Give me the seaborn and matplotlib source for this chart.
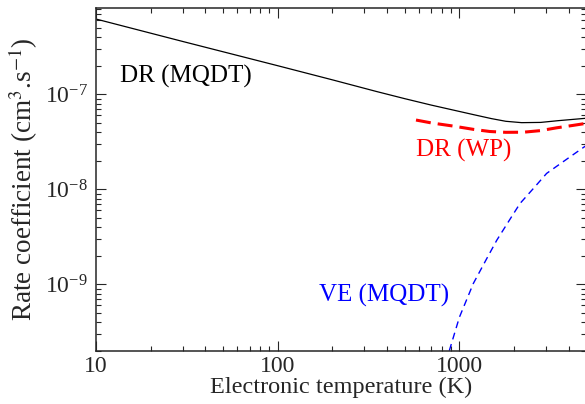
import matplotlib
matplotlib.use("Agg")
import matplotlib.pyplot as plt
import seaborn as sns

# values (T in K, rate in cm^3/s)
dr_mqdt_T = [10, 30, 100, 200, 350, 500, 700, 1000, 1200, 1500, 1800, 2200, 2800, 3500, 5000]
dr_mqdt_k = [6.2e-7, 3.6e-7, 2.0e-7, 1.42e-7, 1.07e-7, 9.0e-8, 7.7e-8, 6.6e-8, 6.1e-8,
             5.55e-8, 5.2e-8, 5.03e-8, 5.06e-8, 5.28e-8, 5.6e-8]

dr_wp_T = [577, 700, 925, 1200, 1470, 1800, 2250, 2800, 3430, 4200, 5000]
dr_wp_k = [5.36e-8, 5.0e-8, 4.63e-8, 4.27e-8, 4.06e-8, 3.98e-8, 3.99e-8, 4.15e-8,
           4.44e-8, 4.7e-8, 4.95e-8]

ve_mqdt_T = [880, 1000, 1193, 1400, 1604, 1900, 2157, 2600, 3020, 4000, 5000]
ve_mqdt_k = [2.0e-10, 4.5e-10, 1.02e-9, 1.8e-9, 2.9e-9, 4.85e-9, 7.1e-9, 1.06e-8,
             1.47e-8, 2.15e-8, 2.9e-8]

sns.set_theme(style="ticks")
plt.rcParams["font.family"] = ["Liberation Serif", "DejaVu Serif"]
plt.rcParams["mathtext.fontset"] = "stix"
plt.rcParams["axes.linewidth"] = 1.1

fig = plt.figure(figsize=(5.85, 4.04), dpi=100)
ax = fig.add_axes([96 / 585, 1 - 350.7 / 404, 490.4 / 585, 343.2 / 404])
ax.set_xscale("log")
ax.set_yscale("log")

sns.lineplot(x=dr_mqdt_T, y=dr_mqdt_k, color="black", linewidth=0.9, ax=ax)
sns.lineplot(x=dr_wp_T, y=dr_wp_k, color="red", linewidth=2.2,
             linestyle=(0, (4.9, 2.3)), ax=ax)
sns.lineplot(x=ve_mqdt_T, y=ve_mqdt_k, color="blue", linewidth=1.0,
             linestyle=(0, (5, 3.5)), ax=ax)

ax.set_xlim(10, 5000)
ax.set_ylim(2e-10, 8.2e-7)

ax.text(13.5, 1.56e-7, "DR (MQDT)", fontsize=18, color="black", va="center")
ax.text(577, 2.59e-8, "DR (WP)", fontsize=18, color="red", va="center")
ax.text(169, 7.7e-10, "VE (MQDT)", fontsize=18, color="blue", va="center")

ax.set_xlabel("Electronic temperature (K)", fontsize=17.5, labelpad=0)
ax.set_ylabel("Rate coefficient (cm$^3$.s$^{-1}$)", fontsize=19.5, labelpad=3)

ax.tick_params(which="both", direction="in", top=True, right=True, width=0.8)
ax.tick_params(which="major", length=7.2, pad=6)
ax.tick_params(which="minor", length=3.6)
ax.tick_params(axis="x", labelsize=17, pad=4)
ax.tick_params(axis="y", labelsize=17)
ax.set_xticks([10, 100, 1000])
ax.set_xticklabels(["10", "100", "1000"])

fig.savefig("out.png", dpi=100)
